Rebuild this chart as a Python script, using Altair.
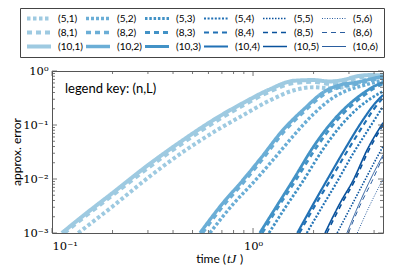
import altair as alt
import pandas as pd

# ---- data (time tJ, approx. error) ----
t_10_1 = [0.112, 0.15, 0.2, 0.3, 0.45, 0.66, 0.9, 1.2, 1.6, 2.0, 2.4, 2.8, 3.3, 3.8, 4.43]
e_10_1 = [0.001, 0.0024, 0.0055, 0.018, 0.053, 0.135, 0.26, 0.45, 0.66, 0.68, 0.64, 0.68, 0.8, 0.84, 0.83]
t_8_1 = [0.115, 0.15, 0.2, 0.3, 0.45, 0.66, 0.9, 1.2, 1.6, 2.0, 2.4, 2.8, 3.3, 3.8, 4.43]
e_8_1 = [0.001, 0.0022, 0.005, 0.016, 0.047, 0.12, 0.235, 0.41, 0.6, 0.63, 0.58, 0.62, 0.74, 0.8, 0.8]
t_5_1 = [0.135, 0.2, 0.3, 0.45, 0.66, 0.9, 1.2, 1.6, 2.0, 2.4, 2.8, 3.3, 3.8, 4.43]
e_5_1 = [0.001, 0.0031, 0.0105, 0.032, 0.08, 0.155, 0.28, 0.44, 0.5, 0.48, 0.5, 0.6, 0.72, 0.8]

t_10_2 = [0.545, 0.7, 0.89, 1.1, 1.41, 1.8, 2.23, 2.7, 3.3, 3.8, 4.43]
e_10_2 = [0.001, 0.0034, 0.0095, 0.025, 0.081, 0.2, 0.4, 0.55, 0.62, 0.7, 0.8]
t_8_2 = [0.56, 0.7, 0.89, 1.1, 1.41, 1.8, 2.23, 2.7, 3.3, 3.8, 4.43]
e_8_2 = [0.001, 0.003, 0.0084, 0.022, 0.072, 0.18, 0.36, 0.5, 0.58, 0.66, 0.76]
t_5_2 = [0.61, 0.8, 1.0, 1.25, 1.6, 2.0, 2.5, 3.0, 3.6, 4.43]
e_5_2 = [0.001, 0.0035, 0.0085, 0.022, 0.065, 0.16, 0.32, 0.45, 0.55, 0.68]

t_10_3 = [1.08, 1.3, 1.58, 2.0, 2.5, 3.0, 3.5, 4.0, 4.43]
e_10_3 = [0.001, 0.003, 0.0095, 0.04, 0.12, 0.24, 0.38, 0.52, 0.62]
t_8_3 = [1.11, 1.33, 1.62, 2.05, 2.55, 3.05, 3.55, 4.0, 4.43]
e_8_3 = [0.001, 0.003, 0.0092, 0.037, 0.11, 0.22, 0.35, 0.48, 0.58]
t_5_3 = [1.2, 1.45, 1.75, 2.2, 2.75, 3.3, 3.8, 4.43]
e_5_3 = [0.001, 0.003, 0.0085, 0.033, 0.1, 0.2, 0.3, 0.42]

t_10_4 = [1.66, 2.0, 2.33, 2.8, 3.5, 4.0, 4.43]
e_10_4 = [0.001, 0.0035, 0.0095, 0.031, 0.12, 0.24, 0.36]
t_8_4 = [1.7, 2.05, 2.4, 2.9, 3.6, 4.0, 4.43]
e_8_4 = [0.001, 0.0034, 0.009, 0.03, 0.11, 0.2, 0.32]
t_5_4 = [1.85, 2.2, 2.6, 3.1, 3.8, 4.43]
e_5_4 = [0.001, 0.003, 0.0085, 0.027, 0.09, 0.22]

t_10_5 = [2.28, 2.7, 3.15, 3.7, 4.43]
e_10_5 = [0.001, 0.0035, 0.0095, 0.035, 0.11]
t_8_5 = [2.33, 2.75, 3.2, 3.75, 4.43]
e_8_5 = [0.001, 0.0034, 0.0092, 0.033, 0.1]
t_5_5 = [2.62, 3.1, 3.6, 4.0, 4.43]
e_5_5 = [0.001, 0.0033, 0.0095, 0.02, 0.04]

t_10_6 = [2.93, 3.35, 3.82, 4.43]
e_10_6 = [0.001, 0.0033, 0.0095, 0.028]
t_8_6 = [2.98, 3.4, 3.9, 4.43]
e_8_6 = [0.001, 0.0032, 0.009, 0.026]
t_5_6 = [3.3, 3.8, 4.43]
e_5_6 = [0.001, 0.0032, 0.01]

n_values = [5, 8, 10]
L_values = [1, 2, 3, 4, 5, 6]

x_major = [0.1, 1]
x_minor = [0.2, 0.3, 0.4, 0.5, 0.6, 0.7, 0.8, 0.9, 2, 3, 4]
y_major = [0.001, 0.01, 0.1, 1]
y_minor = [0.002, 0.003, 0.004, 0.005, 0.006, 0.007, 0.008, 0.009,
           0.02, 0.03, 0.04, 0.05, 0.06, 0.07, 0.08, 0.09,
           0.2, 0.3, 0.4, 0.5, 0.6, 0.7, 0.8, 0.9]

# ---- styles ----
L_colors = ["#9ecae1", "#6baed6", "#4292c6", "#2171b5", "#08519c", "#2a5d9f"]
L_widths = [4.0, 3.4, 2.8, 2.2, 1.6, 1.0]
dotted = [[3.5, 2.5], [3.0, 2.0], [2.5, 1.8], [2.0, 1.6], [1.5, 1.5], [1.0, 1.5]]
dashed = [5, 4]
solid = [1, 0]

series = {
    (5, 1): (t_5_1, e_5_1), (5, 2): (t_5_2, e_5_2), (5, 3): (t_5_3, e_5_3),
    (5, 4): (t_5_4, e_5_4), (5, 5): (t_5_5, e_5_5), (5, 6): (t_5_6, e_5_6),
    (8, 1): (t_8_1, e_8_1), (8, 2): (t_8_2, e_8_2), (8, 3): (t_8_3, e_8_3),
    (8, 4): (t_8_4, e_8_4), (8, 5): (t_8_5, e_8_5), (8, 6): (t_8_6, e_8_6),
    (10, 1): (t_10_1, e_10_1), (10, 2): (t_10_2, e_10_2), (10, 3): (t_10_3, e_10_3),
    (10, 4): (t_10_4, e_10_4), (10, 5): (t_10_5, e_10_5), (10, 6): (t_10_6, e_10_6),
}

keys, colors, widths, dashes = [], [], [], []
rows = []
for n in n_values:
    for i, L in enumerate(L_values):
        k = f"({n},{L})"
        keys.append(k)
        colors.append(L_colors[i])
        widths.append(L_widths[i])
        dashes.append(dotted[i] if n == 5 else (dashed if n == 8 else solid))
        ts, es = series[(n, L)]
        for t, e in zip(ts, es):
            rows.append({"key": k, "t": t, "err": e})
df = pd.DataFrame(rows)

W, H = 331, 162
xs = alt.Scale(type="log", domain=[0.1, 4.43], nice=False)
ys = alt.Scale(type="log", domain=[0.001, 1], nice=False)

leg = alt.Legend(
    title=None, orient="none", legendX=-32, legendY=-63, columns=6,
    direction="horizontal", symbolType="stroke", symbolSize=576,
    labelFont="Lato", labelFontSize=10, labelOffset=5, labelColor="black",
    columnPadding=0, rowPadding=3, padding=5, strokeColor="#444",
    fillColor="white", gridAlign="all", clipHeight=11,
)

lines = alt.Chart(df).mark_line(clip=True, interpolate="monotone", strokeCap="butt").encode(
    x=alt.X("t:Q", scale=xs, axis=alt.Axis(
        values=x_major, ticks=False, domain=False, grid=False, title=None,
        labelExpr="datum.value < 0.5 ? '10⁻¹' : '10⁰'",
        labelFont="DejaVu Serif", labelFontSize=11.5, labelColor="black", labelPadding=7)),
    y=alt.Y("err:Q", scale=ys, axis=alt.Axis(
        values=y_major, ticks=False, domain=False, grid=False, title=None,
        labelExpr="datum.value > 0.5 ? '10⁰' : datum.value > 0.05 ? '10⁻¹' : datum.value > 0.005 ? '10⁻²' : '10⁻³'",
        labelFont="DejaVu Serif", labelFontSize=11.5, labelColor="black", labelPadding=4)),
    color=alt.Color("key:N", scale=alt.Scale(domain=keys, range=colors), legend=leg),
    strokeDash=alt.StrokeDash("key:N", scale=alt.Scale(domain=keys, range=dashes), legend=leg),
    strokeWidth=alt.StrokeWidth("key:N", scale=alt.Scale(type="ordinal", domain=keys, range=widths), legend=leg),
    order="t:Q",
)

tick_color = "#555"
def xticks(vals, length):
    d = pd.DataFrame({"t": vals})
    bot = alt.Chart(d).mark_rule(color=tick_color, strokeWidth=0.8).encode(
        x=alt.X("t:Q", scale=xs), y=alt.value(H), y2=alt.value(H - length))
    top = alt.Chart(d).mark_rule(color=tick_color, strokeWidth=0.8).encode(
        x=alt.X("t:Q", scale=xs), y=alt.value(0), y2=alt.value(length))
    return [bot, top]

def yticks(vals, length):
    d = pd.DataFrame({"err": vals})
    left = alt.Chart(d).mark_rule(color=tick_color, strokeWidth=0.8).encode(
        y=alt.Y("err:Q", scale=ys), x=alt.value(0), x2=alt.value(length))
    right = alt.Chart(d).mark_rule(color=tick_color, strokeWidth=0.8).encode(
        y=alt.Y("err:Q", scale=ys), x=alt.value(W), x2=alt.value(W - length))
    return [left, right]

ticks = xticks(x_major, 5) + xticks(x_minor, 3) + yticks(y_major, 5) + yticks(y_minor, 3)

def txt(text, x, y, font="Lato", size=12, align="left", angle=0, style="normal"):
    return alt.Chart().mark_text(
        text=text, font=font, fontSize=size, align=align, baseline="middle",
        angle=angle, fontStyle=style, color="black",
    ).encode(x=alt.value(x), y=alt.value(y))

texts = [
    txt("legend key: (n,L)", 13, 18, size=13),
    txt("approx. error", -35, 81, align="center", angle=270),
    txt("time (", 174, 188, align="right"),
    txt("tJ", 175, 188, font="Liberation Serif", size=13, style="italic"),
    txt(")", 188, 188),
]

chart = alt.layer(lines, *ticks, *texts).properties(
    width=W, height=H,
    autosize=alt.AutoSizeParams(type="none"),
    padding={"left": 44, "top": 63, "right": 3, "bottom": 32},
).configure_view(stroke="#555", strokeWidth=1).configure_legend(
    symbolLimit=40
)

chart.save("out.html", embed_options={"renderer": "svg", "actions": False})
